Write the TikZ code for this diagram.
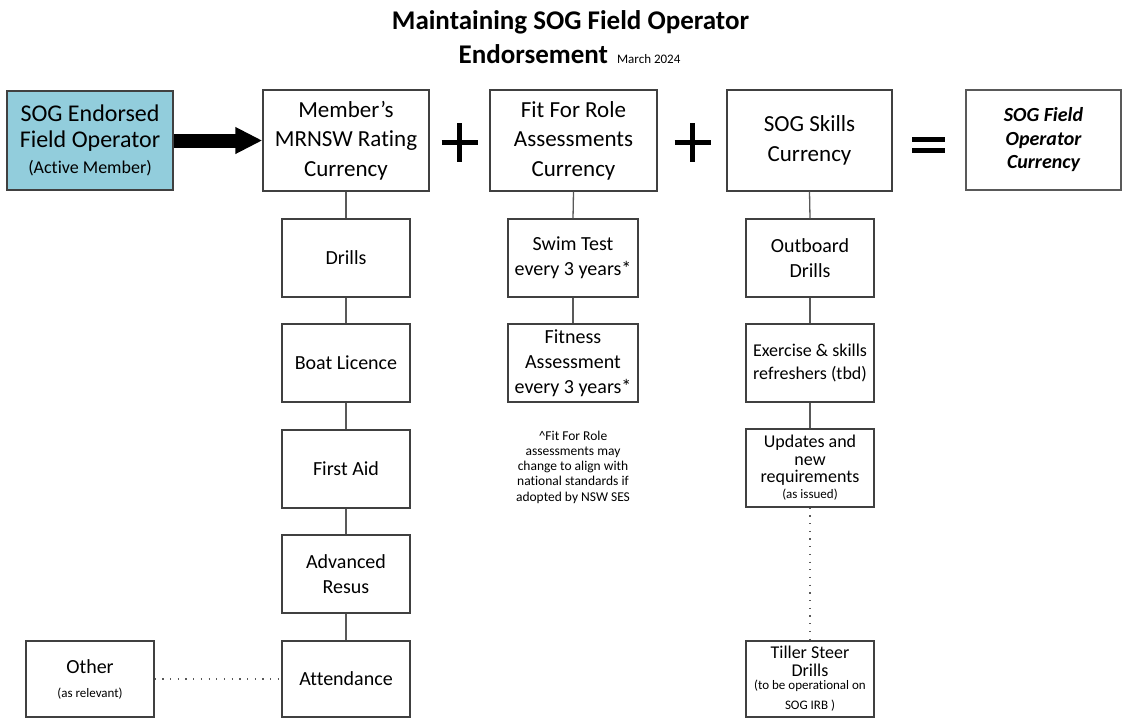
\documentclass[tikz,border=0pt]{standalone}
\usepackage{fontspec}
\setmainfont{Carlito}[Ligatures=NoCommon]
\usetikzlibrary{arrows.meta}
\definecolor{boxline}{HTML}{404040}
\definecolor{connc}{HTML}{595959}
\definecolor{sogblue}{HTML}{92CDDC}
\begin{document}
\begin{tikzpicture}[x=1pt,y=-1pt,
  bx/.style={draw=boxline, line width=1.3pt, rectangle, inner sep=0pt, align=center, text=black},
  topbox/.style={bx, minimum width=166pt, minimum height=101pt, font=\fontsize{23}{29.5}\selectfont},
  lowbox/.style={bx, minimum width=128pt, minimum height=78pt, font=\fontsize{20}{25}\selectfont},
  connline/.style={draw=connc, line width=1.3pt},
  dotline/.style={draw=connc, line width=1.3pt, dash pattern=on 1.2pt off 6.5pt},
  symb/.style={line width=5.5pt, black}
]
\useasboundingbox (0,0) rectangle (1126,718);

% title
\node[anchor=base, font=\fontsize{27}{27}\bfseries\selectfont] (t1) at (570.5,29) {Maintaining SOG Field Operator};
\node[anchor=base] (t2) at (569.5,63) {{\fontsize{27}{27}\bfseries\selectfont Endorsement}\hspace{9pt}{\fontsize{13}{13}\selectfont March 2024}};

% top row
\node[bx, minimum width=166pt, minimum height=99pt, fill=sogblue, font=\fontsize{24}{26}\selectfont] (sog) at (90,140.5)
  {SOG Endorsed\\Field Operator\\{\fontsize{18}{18}\selectfont (Active Member)}};
\node[topbox] (mem) at (346,140.5) {Member’s\\MRNSW Rating\\Currency};
\node[topbox, minimum width=167pt] (fit) at (573.5,140.5) {Fit For Role\\Assessments\\Currency};
\node[topbox, minimum width=165pt] (skl) at (809.5,140.5) {SOG Skills\\Currency};
\node[bx, draw=connc, line width=2.4pt, minimum width=155pt, minimum height=100pt, font=\fontsize{20}{23.5}\bfseries\itshape\selectfont] (fin) at (1043.5,140)
  {SOG Field\\Operator\\Currency};

% arrow
\draw[line width=14pt, -{Triangle[length=27pt 0 0, width=25pt 0 0]}] (sog.east) -- (mem.west);

% plus and equals
\draw[symb] (459.5,123) -- (459.5,162) (441.5,142.5) -- (477.5,142.5);
\draw[symb] (692.5,123) -- (692.5,162) (674.5,142.5) -- (710.5,142.5);
\draw[line width=5pt] (912,139.5) -- (945,139.5) (912,150.5) -- (945,150.5);

% column 1
\node[lowbox] (drl) at (346,258) {Drills};
\node[lowbox] (boat) at (346,363) {Boat Licence};
\node[lowbox] (fa) at (346,469) {First Aid};
\node[lowbox] (adv) at (346,574) {Advanced\\Resus};
\node[lowbox, minimum height=76pt] (att) at (346,679) {Attendance};
\node[lowbox, minimum height=76pt, font=\fontsize{20}{24}\selectfont] (oth) at (90,679) {Other\\{\fontsize{13}{13}\selectfont (as relevant)}};

% column 2
\node[lowbox, minimum width=130pt] (swim) at (573,258) {Swim Test\\every 3 years*};
\node[lowbox, minimum width=130pt] (fitn) at (573,363) {Fitness\\Assessment\\every 3 years*};
\node[align=center, inner sep=0pt, font=\fontsize{13.5}{15.2}\selectfont] (note) at (573,467)
  {\^{}Fit For Role\\assessments may\\change to align with\\national standards if\\adopted by NSW SES};

% column 3
\node[lowbox, minimum width=128pt] (outb) at (810,258) {Outboard\\Drills};
\node[lowbox, minimum width=128pt, font=\fontsize{18}{23}\selectfont] (exr) at (810,363) {Exercise \& skills\\refreshers (tbd)};
\node[lowbox, minimum width=128pt, font=\fontsize{18}{17.5}\selectfont] (upd) at (810,468)
  {Updates and\\new\\requirements\\[-1.5pt]{\fontsize{13}{13}\selectfont (as issued)}};
\node[lowbox, minimum width=128pt, minimum height=76pt, font=\fontsize{18}{18}\selectfont] (till) at (810,679)
  {Tiller Steer\\Drills\\[-5pt]{\fontsize{13}{13}\selectfont (to be operational on}\\[2pt]{\fontsize{13}{13}\selectfont SOG IRB )}};

% connectors
\draw[connline] (mem.south) -- (drl.north);
\draw[connline] (drl.south) -- (boat.north);
\draw[connline] (boat.south) -- (fa.north);
\draw[connline] (fa.south) -- (adv.north);
\draw[connline] (adv.south) -- (att.north);
\draw[connline] (fit.south) -- (swim.north);
\draw[connline] (swim.south) -- (fitn.north);
\draw[connline] (skl.south) -- (outb.north);
\draw[connline] (outb.south) -- (exr.north);
\draw[connline] (exr.south) -- (upd.north);
\draw[dotline] (upd.south) -- (till.north);
\draw[dotline] (oth.east) -- (att.west);
\end{tikzpicture}
\end{document}
